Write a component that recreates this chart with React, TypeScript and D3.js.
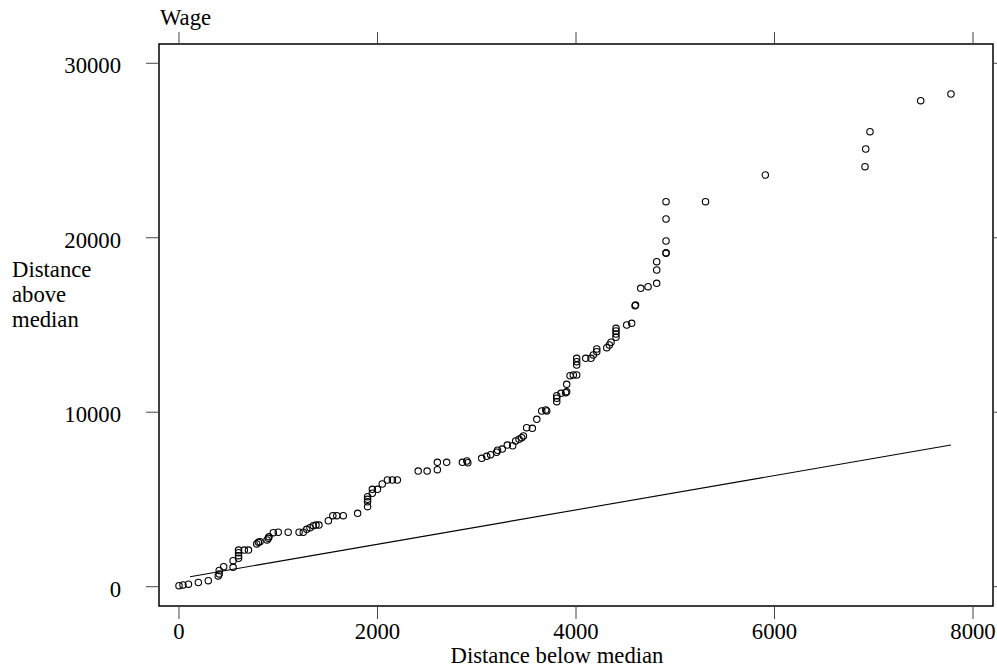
import { useEffect, useRef } from 'react';
import * as d3 from 'd3';

// distance below median (x) and distance above median (y)
const belowMedian = [
  0, 40, 95, 195, 295, 395, 405, 405, 450, 545, 545, 600, 600, 600, 600, 658, 700,
  783, 800, 816, 887, 900, 907, 950, 1000, 1100, 1210, 1252, 1287, 1320, 1353, 1380,
  1410, 1505, 1550, 1590, 1655, 1800, 1900, 1900, 1900, 1900, 1948, 1948, 2000, 2048,
  2100, 2150, 2200, 2410, 2500, 2603, 2603, 2697, 2855, 2900, 2910, 3050, 3100, 3140,
  3200, 3210, 3257, 3308, 3362, 3392, 3426, 3453, 3470, 3503, 3560, 3605, 3655, 3695,
  3705, 3806, 3806, 3806, 3849, 3896, 3906, 3906, 3940, 3973, 4007, 4007, 4007, 4007,
  4098, 4151, 4174, 4209, 4209, 4310, 4336, 4353, 4403, 4403, 4403, 4403, 4511, 4561,
  4595, 4600, 4652, 4726, 4813, 4813, 4813, 4907, 4907, 4907, 4907, 4907, 5305, 5907,
  6912, 6919, 6962, 7473, 7778,
];
const aboveMedian = [
  60, 100, 145, 240, 345, 615, 730, 930, 1150, 1110, 1490, 1630, 1780, 1950, 2100, 2100, 2100,
  2450, 2545, 2580, 2680, 2775, 2865, 3095, 3120, 3120, 3120, 3120, 3290, 3380, 3500, 3535,
  3535, 3780, 4070, 4070, 4070, 4205, 4585, 4870, 5010, 5160, 5355, 5580, 5580, 5885,
  6115, 6115, 6115, 6630, 6630, 6705, 7130, 7130, 7130, 7205, 7105, 7360, 7475, 7565,
  7705, 7820, 7890, 8120, 8080, 8350, 8450, 8540, 8640, 9115, 9080, 9595, 10070, 10130,
  10070, 10605, 10800, 10945, 11085, 11120, 11177, 11600, 12095, 12135, 12135, 12705, 12895, 13090,
  13090, 13090, 13280, 13470, 13625, 13700, 13855, 14010, 14295, 14485, 14656, 14811, 15000, 15097,
  16106, 16140, 17103, 17195, 17390, 18152, 18628, 19109, 19140, 19814, 21075, 22067, 22067, 23597,
  24073, 25088, 26079, 27856, 28240,
];

// reference line
const lineX = [111, 7778];
const lineY = [573, 8122];

const xTicks = [0, 2000, 4000, 6000, 8000];
const yTicks = [0, 10000, 20000, 30000];

const FONT = '"Liberation Serif", "Times New Roman", serif';

const App = () => {
  const svgRef = useRef<SVGSVGElement | null>(null);

  useEffect(() => {
    const svg = d3.select(svgRef.current);
    svg.selectAll('*').remove();

    const left = 159, right = 993, top = 44, bottom = 606;

    const x = d3.scaleLinear().domain([-201.5, 8201.5]).range([left, right]);
    const y = d3.scaleLinear().domain([-1106, 31105]).range([bottom, top]);

    // plot frame
    svg.append('rect')
      .attr('x', left)
      .attr('y', top)
      .attr('width', right - left)
      .attr('height', bottom - top)
      .attr('fill', 'none')
      .attr('stroke', '#000')
      .attr('stroke-width', 1.5);

    // ticks on all four sides
    const tickColor = '#444';
    xTicks.forEach(t => {
      svg.append('line')
        .attr('x1', x(t)).attr('x2', x(t))
        .attr('y1', bottom).attr('y2', bottom + 13)
        .attr('stroke', tickColor);
      svg.append('line')
        .attr('x1', x(t)).attr('x2', x(t))
        .attr('y1', top).attr('y2', top - 12)
        .attr('stroke', tickColor);
      svg.append('text')
        .attr('x', x(t))
        .attr('y', 639)
        .attr('text-anchor', 'middle')
        .style('font-family', FONT)
        .style('font-size', '22.7px')
        .text(t);
    });

    yTicks.forEach(t => {
      svg.append('line')
        .attr('x1', left - 13).attr('x2', left)
        .attr('y1', y(t)).attr('y2', y(t))
        .attr('stroke', tickColor);
      svg.append('line')
        .attr('x1', right).attr('x2', right + 13)
        .attr('y1', y(t)).attr('y2', y(t))
        .attr('stroke', tickColor);
      svg.append('text')
        .attr('x', 121)
        .attr('y', y(t) + 10)
        .attr('text-anchor', 'end')
        .style('font-family', FONT)
        .style('font-size', '22.7px')
        .text(t);
    });

    // reference line
    const line = d3.line<number>()
      .x(i => x(lineX[i]))
      .y(i => y(lineY[i]));
    svg.append('path')
      .attr('d', line(d3.range(lineX.length)))
      .attr('fill', 'none')
      .attr('stroke', '#000')
      .attr('stroke-width', 1.1);

    // points
    svg.selectAll('.pt')
      .data(d3.range(belowMedian.length))
      .enter()
      .append('circle')
      .attr('class', 'pt')
      .attr('cx', i => x(belowMedian[i]))
      .attr('cy', i => y(aboveMedian[i]))
      .attr('r', 3.2)
      .attr('fill', 'none')
      .attr('stroke', '#000')
      .attr('stroke-width', 1.1);

    // titles
    svg.append('text')
      .attr('x', 160)
      .attr('y', 25)
      .style('font-family', FONT)
      .style('font-size', '22.7px')
      .text('Wage');

    svg.append('text')
      .attr('x', 557)
      .attr('y', 663)
      .attr('text-anchor', 'middle')
      .style('font-family', FONT)
      .style('font-size', '22.7px')
      .text('Distance below median');

    ['Distance', 'above', 'median'].forEach((s, i) => {
      svg.append('text')
        .attr('x', 12)
        .attr('y', 277 + i * 25)
        .style('font-family', FONT)
        .style('font-size', '22.7px')
        .text(s);
    });
  }, []);

  return (
    <svg
      ref={svgRef}
      width={997}
      height={668}
      style={{ position: 'absolute', left: 0, top: 0, background: '#fff' }}
    />
  );
};

export default App;
